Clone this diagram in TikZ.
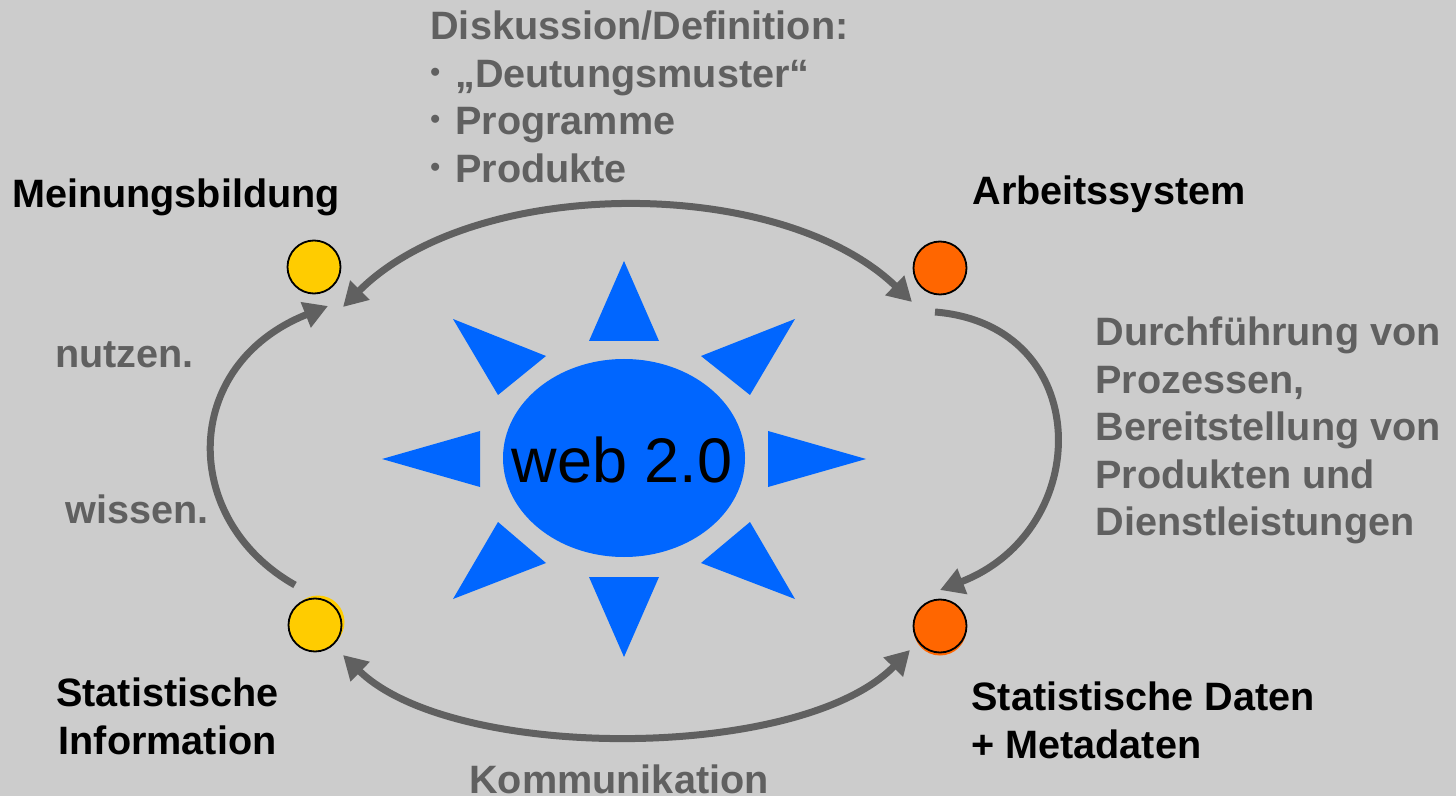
\documentclass[tikz,border=0pt]{standalone}
\usepackage{fontspec}
\setmainfont{Liberation Sans}
\usetikzlibrary{arrows.meta}
\definecolor{bggray}{HTML}{CCCCCC}
\definecolor{txtgray}{HTML}{606060}
\definecolor{sunblue}{HTML}{0066FF}
\definecolor{dotyellow}{HTML}{FFCC00}
\definecolor{dotorange}{HTML}{FF6600}
\newcommand\bull{{\fontsize{14}{14}\selectfont\raisebox{3pt}{•}}\hspace{7.5pt}}
\tikzset{
  lbl/.style={inner sep=0pt, font=\bfseries\fontsize{19.8}{23.8}\selectfont},
  grylbl/.style={lbl, text=txtgray},
  dot/.style={circle, draw=black, line width=0.9pt, minimum size=26.5pt, inner sep=0pt},
  cyc/.style={draw=txtgray, line width=3.5pt},
  cyctip/.tip={Triangle[length=12pt,width=13pt]},
  ray/.style={fill=sunblue}
}
\begin{document}
\begin{tikzpicture}[x=0.5pt, y=-0.5pt, line join=round]
\fill[bggray] (0,0) rectangle (1456,796);
\useasboundingbox (0,0) rectangle (1456,796);

% sun
\fill[sunblue] (624,458) ellipse (60.5pt and 49.5pt);
\node[inner sep=0pt, font=\fontsize{31.5}{31.5}\selectfont] (web) at (622,460) {web 2.0};
\fill[ray] (624,261) -- (589,341) -- (659,341) -- cycle;
\fill[ray] (624,657) -- (589,577) -- (659,577) -- cycle;
\fill[ray] (382,459) -- (480,431) -- (480,487) -- cycle;
\fill[ray] (866,459) -- (768,431) -- (768,487) -- cycle;
\fill[ray] (453,319) -- (546,356) -- (498,395) -- cycle;
\fill[ray] (795,319) -- (701,356) -- (750,395) -- cycle;
\fill[ray] (453,599) -- (546,563) -- (498,522) -- cycle;
\fill[ray] (795,599) -- (701,563) -- (750,522) -- cycle;

% dots
\node[dot, fill=dotyellow] (meinung) at (314,267) {};
\node[dot, fill=dotorange] (arbeit) at (940,268) {};
\fill[dotyellow] (318,622) circle (13.25pt);
\node[dot, fill=dotyellow] (statinfo) at (315,625) {};
\fill[dotorange] (940,629) circle (13.25pt);
\node[dot, fill=dotorange] (statdaten) at (940,626) {};

% cycle arrows
\coordinate (tl) at (343,307);
\coordinate (tr) at (912,302);
\coordinate (rs) at (935,312);
\coordinate (re) at (940,590);
\coordinate (bl) at (343,655);
\coordinate (br) at (910,650);
\coordinate (ls) at (295,585);
\coordinate (le) at (328,306);
\draw[cyc, cyctip-cyctip] (tl) .. controls (475,175) and (780,175) .. (tr);
\draw[cyc, -cyctip] (rs) .. controls (1095,325) and (1095,530) .. (re);
\draw[cyc, cyctip-cyctip] (bl) .. controls (453,762) and (800,762) .. (br);
\draw[cyc, -cyctip] (ls) .. controls (180,520) and (180,365) .. (le);

% labels
\node[lbl, anchor=base] (meinungtxt) at (176,208) {Meinungsbildung};
\node[lbl, anchor=base] (arbeittxt) at (1109,205) {Arbeitssystem};
\node[lbl, anchor=north, align=center] (statinfotxt) at (167.5,677.5) {Statistische\\Information};
\node[lbl, anchor=north west, align=left] (statdatentxt) at (971,681.5) {Statistische Daten\\+ Metadaten};
\node[grylbl, anchor=base west] (nutzen) at (55,368) {nutzen.};
\node[grylbl, anchor=base west] (wissen) at (65,523) {wissen.};
\node[grylbl, anchor=north west, align=left] (durch) at (1095,316.5)
  {Durchführung von\\Prozessen,\\Bereitstellung von\\Produkten und\\Dienstleistungen};
\node[grylbl, anchor=north west, align=left] (disk) at (430,10.5)
  {Diskussion/Definition:\\\bull„Deutungsmuster“\\\bull Programme\\\bull Produkte};
\node[grylbl, anchor=base] (komm) at (619,793) {Kommunikation};
\end{tikzpicture}
\end{document}
